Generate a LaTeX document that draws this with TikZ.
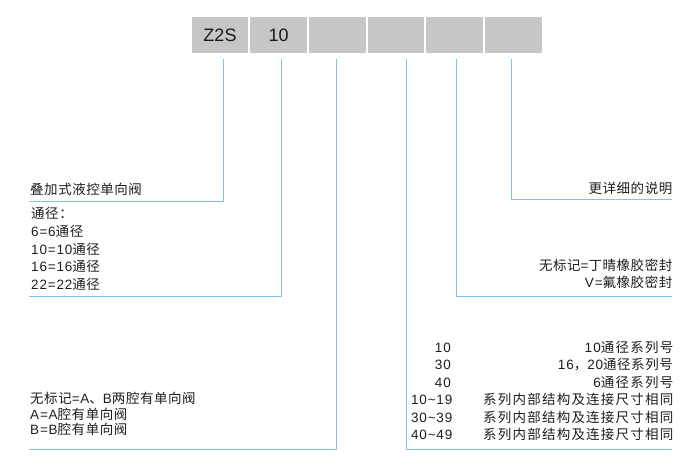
\documentclass[tikz,border=0pt]{standalone}
\usepackage{fontspec}
\setmainfont{Liberation Sans}[LetterSpace=6]
\newfontfamily\cjk{Noto Sans CJK SC}[LetterSpace=4]
\newfontfamily\cjkw{Noto Sans CJK SC}[LetterSpace=9]
\newfontfamily\latw{Liberation Sans}[LetterSpace=9]
\newfontfamily\boxfont{Liberation Sans}
\newcommand\zh[1]{{\cjk #1}}
\newcommand\zhw[1]{{\cjkw #1}}
\definecolor{boxgray}{HTML}{C6C6C6}
\definecolor{lineblue}{HTML}{86C3DD}
\definecolor{txt}{HTML}{1E1E1E}
\begin{document}
\begin{tikzpicture}[x=1pt,y=-1pt,
  codebox/.style={fill=boxgray,draw=none,minimum width=56.7pt,minimum height=36pt,inner sep=0pt,
     font=\boxfont\fontsize{18}{20}\selectfont,text=black!90},
  lead/.style={draw=lineblue,line width=0.9pt},
  lbl/.style={inner sep=0pt,text=txt,font=\fontsize{13.5}{16}\selectfont},
  lblL/.style={lbl,anchor=base west},
  lblR/.style={lbl,anchor=base east}]
\useasboundingbox (0,0) rectangle (700,467);
% code boxes
\node[codebox] (b1) at (220,35.3) {Z2S};
\node[codebox] (b2) at (278.7,35.3) {10};
\node[codebox] (b3) at (337.3,35.3) {};
\node[codebox] (b4) at (396,35.3) {};
\node[codebox] (b5) at (454.7,35.3) {};
\node[codebox] (b6) at (513.3,35.3) {};
% leader line coordinates
\coordinate (t1) at (223.3,59);
\coordinate (e1) at (29,201.7);
\coordinate (t2) at (281.7,59);
\coordinate (e2) at (29,296);
\coordinate (t3) at (336.7,59);
\coordinate (e3) at (29,449);
\coordinate (t4) at (406.7,59);
\coordinate (e4) at (671.7,449);
\coordinate (t5) at (456,59);
\coordinate (e5) at (671.7,296.5);
\coordinate (t6) at (511.7,59);
\coordinate (e6) at (671.7,199.5);
\draw[lead] (t1) |- (e1);
\draw[lead] (t2) |- (e2);
\draw[lead] (t3) |- (e3);
\draw[lead] (t4) |- (e4);
\draw[lead] (t5) |- (e5);
\draw[lead] (t6) |- (e6);
% left texts
\node[lblL] (n1) at (30,194) {\zh{叠加式液控单向阀}};
\node[lblL] (n2a) at (31,218) {\zh{通径：}};
\node[lblL] (n2b) at (31,236.5) {6=6\zh{通径}};
\node[lblL] (n2c) at (31,254) {10=10\zh{通径}};
\node[lblL] (n2d) at (31,271.5) {16=16\zh{通径}};
\node[lblL] (n2e) at (31,289) {22=22\zh{通径}};
\node[lblL] (n3a) at (30,403.5) {\zh{无标记}=A\zh{、}B\zh{两腔有单向阀}};
\node[lblL] (n3b) at (30,419) {A=A\zh{腔有单向阀}};
\node[lblL] (n3c) at (30,434.5) {B=B\zh{腔有单向阀}};
% right middle texts
\node[lblR] (n6) at (672.5,193.5) {\zh{更详细的说明}};
\node[lblR] (n5a) at (672.5,270) {\zh{无标记}=\zh{丁晴橡胶密封}};
\node[lblR] (n5b) at (672.5,287) {V=\zh{氟橡胶密封}};
% right bottom table
\node[lblR] (c1) at (451,352) {10};
\node[lblR] (c2) at (451,369.5) {30};
\node[lblR] (c3) at (451,387) {40};
\node[lblR] (c4) at (452.5,404.5) {10\textasciitilde19};
\node[lblR] (c5) at (452.5,422) {30\textasciitilde39};
\node[lblR] (c6) at (452.5,439.5) {40\textasciitilde49};
\node[lblR] (d1) at (673.5,352) {{\latw 10}\zhw{通径系列号}};
\node[lblR] (d2) at (673,369.5) {16\zh{，}20\zh{通径系列号}};
\node[lblR] (d3) at (673.5,387) {{\latw 6}\zhw{通径系列号}};
\node[lblR] (d4) at (673.5,404.5) {\zhw{系列内部结构及连接尺寸相同}};
\node[lblR] (d5) at (673.5,422) {\zhw{系列内部结构及连接尺寸相同}};
\node[lblR] (d6) at (673.5,439.5) {\zhw{系列内部结构及连接尺寸相同}};
\end{tikzpicture}
\end{document}
